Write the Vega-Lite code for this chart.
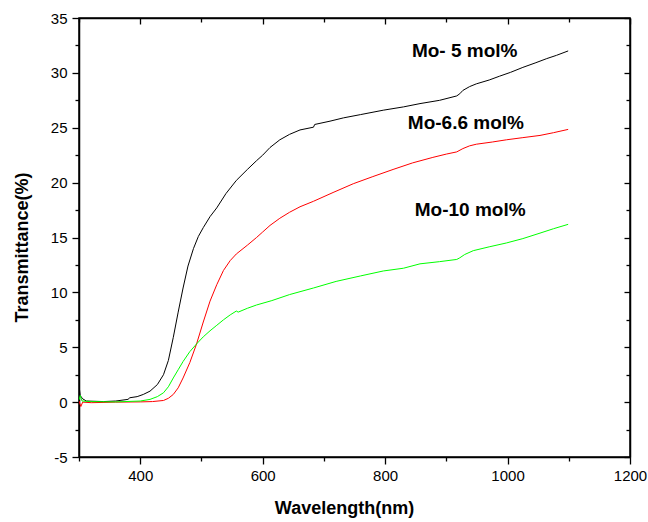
{
  "$schema": "https://vega.github.io/schema/vega-lite/v6.json",
  "autosize": "none",
  "width": 551,
  "height": 439,
  "padding": {"left": 79, "top": 18, "right": 18, "bottom": 65},
  "background": "white",
  "config": {
    "view": {"stroke": "black", "strokeWidth": 1.5},
    "font": "Liberation Sans",
    "axis": {"domainColor": "black", "domainWidth": 1.5, "tickColor": "black", "tickWidth": 1.3, "labelColor": "black", "titleColor": "black", "grid": false, "labelFont": "Liberation Sans", "titleFont": "Liberation Sans"}
  },
  "datasets": {
    "spectra": [
      {"s": "Mo-5", "wl": 300, "t": 1.5}, {"s": "Mo-5", "wl": 302, "t": 0.6}, {"s": "Mo-5", "wl": 306, "t": 0.3}, {"s": "Mo-5", "wl": 312, "t": 0.1},
      {"s": "Mo-5", "wl": 340, "t": 0.05}, {"s": "Mo-5", "wl": 360, "t": 0.1}, {"s": "Mo-5", "wl": 380, "t": 0.25}, {"s": "Mo-5", "wl": 383, "t": 0.4},
      {"s": "Mo-5", "wl": 395, "t": 0.5}, {"s": "Mo-5", "wl": 405, "t": 0.7}, {"s": "Mo-5", "wl": 416, "t": 1.0}, {"s": "Mo-5", "wl": 428, "t": 1.6},
      {"s": "Mo-5", "wl": 438, "t": 2.5}, {"s": "Mo-5", "wl": 446, "t": 3.8}, {"s": "Mo-5", "wl": 454, "t": 5.9}, {"s": "Mo-5", "wl": 462, "t": 8.2},
      {"s": "Mo-5", "wl": 470, "t": 10.4}, {"s": "Mo-5", "wl": 478, "t": 12.4}, {"s": "Mo-5", "wl": 487, "t": 14.0}, {"s": "Mo-5", "wl": 495, "t": 15.1},
      {"s": "Mo-5", "wl": 503, "t": 15.9}, {"s": "Mo-5", "wl": 514, "t": 16.9}, {"s": "Mo-5", "wl": 525, "t": 17.7}, {"s": "Mo-5", "wl": 540, "t": 19.0},
      {"s": "Mo-5", "wl": 557, "t": 20.2}, {"s": "Mo-5", "wl": 575, "t": 21.2}, {"s": "Mo-5", "wl": 590, "t": 22.0}, {"s": "Mo-5", "wl": 600, "t": 22.5},
      {"s": "Mo-5", "wl": 612, "t": 23.2}, {"s": "Mo-5", "wl": 628, "t": 23.9}, {"s": "Mo-5", "wl": 644, "t": 24.4}, {"s": "Mo-5", "wl": 661, "t": 24.8},
      {"s": "Mo-5", "wl": 683, "t": 25.05}, {"s": "Mo-5", "wl": 685, "t": 25.3}, {"s": "Mo-5", "wl": 710, "t": 25.6}, {"s": "Mo-5", "wl": 732, "t": 25.9},
      {"s": "Mo-5", "wl": 760, "t": 26.2}, {"s": "Mo-5", "wl": 797, "t": 26.6}, {"s": "Mo-5", "wl": 830, "t": 26.9}, {"s": "Mo-5", "wl": 857, "t": 27.2},
      {"s": "Mo-5", "wl": 889, "t": 27.5}, {"s": "Mo-5", "wl": 917, "t": 27.9}, {"s": "Mo-5", "wl": 922, "t": 28.1}, {"s": "Mo-5", "wl": 927, "t": 28.4},
      {"s": "Mo-5", "wl": 938, "t": 28.75}, {"s": "Mo-5", "wl": 949, "t": 29.0}, {"s": "Mo-5", "wl": 970, "t": 29.35}, {"s": "Mo-5", "wl": 987, "t": 29.7},
      {"s": "Mo-5", "wl": 1005, "t": 30.05}, {"s": "Mo-5", "wl": 1025, "t": 30.5}, {"s": "Mo-5", "wl": 1045, "t": 30.9}, {"s": "Mo-5", "wl": 1064, "t": 31.3},
      {"s": "Mo-5", "wl": 1080, "t": 31.6}, {"s": "Mo-5", "wl": 1099, "t": 32.0},

      {"s": "Mo-6.6", "wl": 300, "t": 0.1}, {"s": "Mo-6.6", "wl": 303, "t": -0.4}, {"s": "Mo-6.6", "wl": 306, "t": 0.0}, {"s": "Mo-6.6", "wl": 320, "t": -0.05},
      {"s": "Mo-6.6", "wl": 360, "t": 0.0}, {"s": "Mo-6.6", "wl": 400, "t": 0.02}, {"s": "Mo-6.6", "wl": 420, "t": 0.05}, {"s": "Mo-6.6", "wl": 438, "t": 0.15},
      {"s": "Mo-6.6", "wl": 446, "t": 0.35}, {"s": "Mo-6.6", "wl": 454, "t": 0.7}, {"s": "Mo-6.6", "wl": 462, "t": 1.3}, {"s": "Mo-6.6", "wl": 470, "t": 2.2},
      {"s": "Mo-6.6", "wl": 481, "t": 3.6}, {"s": "Mo-6.6", "wl": 492, "t": 5.3}, {"s": "Mo-6.6", "wl": 503, "t": 7.3}, {"s": "Mo-6.6", "wl": 514, "t": 9.2},
      {"s": "Mo-6.6", "wl": 525, "t": 10.7}, {"s": "Mo-6.6", "wl": 536, "t": 12.0}, {"s": "Mo-6.6", "wl": 547, "t": 12.9}, {"s": "Mo-6.6", "wl": 557, "t": 13.5},
      {"s": "Mo-6.6", "wl": 575, "t": 14.3}, {"s": "Mo-6.6", "wl": 590, "t": 15.0}, {"s": "Mo-6.6", "wl": 600, "t": 15.5}, {"s": "Mo-6.6", "wl": 612, "t": 16.1},
      {"s": "Mo-6.6", "wl": 628, "t": 16.75}, {"s": "Mo-6.6", "wl": 644, "t": 17.3}, {"s": "Mo-6.6", "wl": 661, "t": 17.8}, {"s": "Mo-6.6", "wl": 683, "t": 18.3},
      {"s": "Mo-6.6", "wl": 715, "t": 19.1}, {"s": "Mo-6.6", "wl": 748, "t": 19.9}, {"s": "Mo-6.6", "wl": 780, "t": 20.55}, {"s": "Mo-6.6", "wl": 813, "t": 21.2},
      {"s": "Mo-6.6", "wl": 845, "t": 21.8}, {"s": "Mo-6.6", "wl": 878, "t": 22.3}, {"s": "Mo-6.6", "wl": 900, "t": 22.6}, {"s": "Mo-6.6", "wl": 917, "t": 22.8},
      {"s": "Mo-6.6", "wl": 927, "t": 23.1}, {"s": "Mo-6.6", "wl": 938, "t": 23.35}, {"s": "Mo-6.6", "wl": 949, "t": 23.5}, {"s": "Mo-6.6", "wl": 975, "t": 23.7},
      {"s": "Mo-6.6", "wl": 998, "t": 23.9}, {"s": "Mo-6.6", "wl": 1025, "t": 24.1}, {"s": "Mo-6.6", "wl": 1053, "t": 24.3}, {"s": "Mo-6.6", "wl": 1075, "t": 24.55},
      {"s": "Mo-6.6", "wl": 1099, "t": 24.85},

      {"s": "Mo-10", "wl": 300, "t": 0.2}, {"s": "Mo-10", "wl": 302, "t": 0.6}, {"s": "Mo-10", "wl": 305, "t": 0.1}, {"s": "Mo-10", "wl": 320, "t": 0.05},
      {"s": "Mo-10", "wl": 360, "t": 0.02}, {"s": "Mo-10", "wl": 400, "t": 0.1}, {"s": "Mo-10", "wl": 416, "t": 0.25}, {"s": "Mo-10", "wl": 428, "t": 0.5},
      {"s": "Mo-10", "wl": 438, "t": 0.85}, {"s": "Mo-10", "wl": 446, "t": 1.4}, {"s": "Mo-10", "wl": 454, "t": 2.2}, {"s": "Mo-10", "wl": 462, "t": 2.95},
      {"s": "Mo-10", "wl": 470, "t": 3.7}, {"s": "Mo-10", "wl": 481, "t": 4.6}, {"s": "Mo-10", "wl": 492, "t": 5.3}, {"s": "Mo-10", "wl": 503, "t": 5.95},
      {"s": "Mo-10", "wl": 514, "t": 6.5}, {"s": "Mo-10", "wl": 525, "t": 7.0}, {"s": "Mo-10", "wl": 536, "t": 7.5}, {"s": "Mo-10", "wl": 547, "t": 7.95},
      {"s": "Mo-10", "wl": 557, "t": 8.3}, {"s": "Mo-10", "wl": 560, "t": 8.2}, {"s": "Mo-10", "wl": 575, "t": 8.55}, {"s": "Mo-10", "wl": 590, "t": 8.85},
      {"s": "Mo-10", "wl": 615, "t": 9.25}, {"s": "Mo-10", "wl": 644, "t": 9.8}, {"s": "Mo-10", "wl": 683, "t": 10.4}, {"s": "Mo-10", "wl": 720, "t": 11.0},
      {"s": "Mo-10", "wl": 760, "t": 11.5}, {"s": "Mo-10", "wl": 797, "t": 11.95}, {"s": "Mo-10", "wl": 830, "t": 12.2}, {"s": "Mo-10", "wl": 857, "t": 12.6},
      {"s": "Mo-10", "wl": 889, "t": 12.8}, {"s": "Mo-10", "wl": 917, "t": 13.0}, {"s": "Mo-10", "wl": 922, "t": 13.15}, {"s": "Mo-10", "wl": 930, "t": 13.45},
      {"s": "Mo-10", "wl": 944, "t": 13.8}, {"s": "Mo-10", "wl": 970, "t": 14.15}, {"s": "Mo-10", "wl": 998, "t": 14.5}, {"s": "Mo-10", "wl": 1025, "t": 14.9},
      {"s": "Mo-10", "wl": 1053, "t": 15.4}, {"s": "Mo-10", "wl": 1075, "t": 15.8}, {"s": "Mo-10", "wl": 1099, "t": 16.2}
    ],
    "labels": [
      {"wl": 930, "t": 32.0, "text": "Mo- 5 mol%"},
      {"wl": 932, "t": 25.4, "text": "Mo-6.6 mol%"},
      {"wl": 939, "t": 17.5, "text": "Mo-10 mol%"}
    ]
  },
  "layer": [
    {
      "data": {"name": "spectra"},
      "mark": {"type": "line", "strokeWidth": 1, "clip": true},
      "encoding": {
        "x": {"field": "wl", "type": "quantitative", "scale": {"domain": [300, 1200], "nice": false, "zero": false},
          "axis": {"orient": "bottom", "values": [300, 400, 500, 600, 700, 800, 900, 1000, 1100, 1200], "format": "d",
            "labelExpr": "datum.value % 200 === 0 && datum.value > 300 ? datum.label : ''",
            "tickSize": {"condition": {"test": "datum.value % 200 === 0", "value": 7}, "value": 4},
            "labelFontSize": 15, "labelPadding": 4, "labelFlush": false,
            "title": "Wavelength(nm)", "titleFontSize": 18, "titleFontWeight": "bold",
            "titleX": 265, "titleY": 51, "titleBaseline": "middle", "titleAlign": "center"}},
        "y": {"field": "t", "type": "quantitative", "scale": {"domain": [-5, 35], "nice": false, "zero": false},
          "axis": {"orient": "left", "values": [-5, -2.5, 0, 2.5, 5, 7.5, 10, 12.5, 15, 17.5, 20, 22.5, 25, 27.5, 30, 32.5, 35],
            "labelExpr": "datum.value % 5 === 0 ? replace(datum.label, '\u2212', '-') : ''",
            "tickSize": {"condition": {"test": "datum.value % 5 === 0", "value": 7}, "value": 4},
            "labelFontSize": 15, "labelPadding": 5, "labelFlush": false,
            "title": "Transmittance(%)", "titleFontSize": 18, "titleFontWeight": "bold",
            "titleX": -57, "titleY": 229, "titleBaseline": "middle", "titleAlign": "center", "titleAngle": -90}},
        "color": {"field": "s", "type": "nominal", "scale": {"domain": ["Mo-5", "Mo-6.6", "Mo-10"], "range": ["#000000", "#ff0000", "#00ff00"]}, "legend": null},
        "detail": {"field": "s"}
      }
    },
    {
      "data": {"name": "labels"},
      "mark": {"type": "text", "fontSize": 19, "fontWeight": "bold", "font": "Liberation Sans", "align": "center", "baseline": "middle", "color": "black"},
      "encoding": {
        "x": {"field": "wl", "type": "quantitative", "axis": null},
        "y": {"field": "t", "type": "quantitative", "axis": null},
        "text": {"field": "text"}
      }
    },
    {
      "data": {"name": "labels"},
      "mark": {"type": "point", "opacity": 0},
      "encoding": {
        "x": {"field": "wl", "type": "quantitative",
          "axis": {"orient": "top", "values": [300, 400, 500, 600, 700, 800, 900, 1000, 1100, 1200], "labels": false, "title": null,
            "tickSize": {"condition": {"test": "datum.value % 200 === 0", "value": -6}, "value": -4}}},
        "y": {"field": "t", "type": "quantitative",
          "axis": {"orient": "right", "values": [-5, -2.5, 0, 2.5, 5, 7.5, 10, 12.5, 15, 17.5, 20, 22.5, 25, 27.5, 30, 32.5, 35], "labels": false, "title": null,
            "tickSize": {"condition": {"test": "datum.value % 5 === 0", "value": -6}, "value": -4}}}
      }
    }
  ],
  "resolve": {"axis": {"x": "independent", "y": "independent"}}
}
